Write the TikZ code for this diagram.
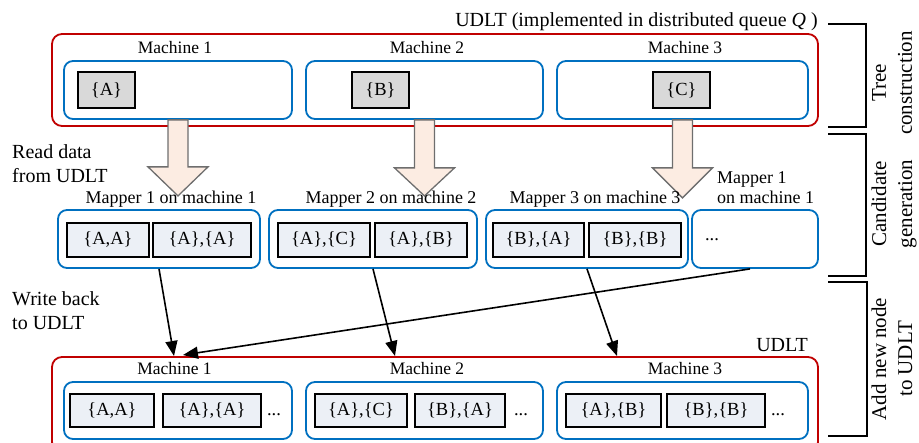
\documentclass[tikz,border=0pt]{standalone}
\usepackage{fontspec}
\setmainfont{Liberation Serif}
\usetikzlibrary{arrows.meta,calc}
\definecolor{udred}{RGB}{192,0,0}
\definecolor{udblue}{RGB}{0,112,192}
\definecolor{itemfill}{RGB}{236,240,246}
\definecolor{grayfill}{RGB}{217,217,217}
\definecolor{peach}{RGB}{252,236,226}
\definecolor{arrgray}{RGB}{110,110,110}
\begin{document}
\begin{tikzpicture}[x=1pt,y=-1pt,
  redbox/.style={draw=udred, line width=1.8pt, rounded corners=10pt, inner sep=0pt},
  bluebox/.style={draw=udblue, line width=1.8pt, rounded corners=9pt, inner sep=0pt, minimum height=58pt},
  itembox/.style={draw=black, line width=2.2pt, fill=itemfill, inner sep=0pt, minimum height=34pt, font=\fontsize{18.5}{20}\selectfont},
  graybox/.style={draw=black, line width=2.2pt, fill=grayfill, inner sep=0pt, minimum width=57pt, minimum height=36pt, font=\fontsize{18.5}{20}\selectfont},
  mlabel/.style={anchor=base, inner sep=0pt, font=\fontsize{17.5}{20}\selectfont},
  maplabel/.style={anchor=base, inner sep=0pt, font=\fontsize{18}{20}\selectfont},
  dotslabel/.style={anchor=base, inner sep=0pt, font=\fontsize{18.5}{20}\selectfont},
  sidetext/.style={rotate=90, align=center, inner sep=0pt, font=\fontsize{21}{26}\selectfont},
  lefttext/.style={anchor=north west, align=left, inner sep=0pt, font=\fontsize{20}{24.5}\selectfont},
  blockarrow/.style={draw=arrgray, line width=1.3pt, fill=peach, line join=miter},
  writearrow/.style={draw=black, line width=1.6pt, -{Triangle[length=15pt,width=12pt]}},
  bracket/.style={draw=black, line width=2pt}
]
\useasboundingbox (0,0) rectangle (919,443);

% ---------- top UDLT ----------
\node[redbox, minimum width=766pt, minimum height=92pt] (udlt) at (435,80) {};
\node[anchor=base east, inner sep=0pt, font=\fontsize{20}{24}\selectfont] (ttl) at (818,27)
  {UDLT (implemented in distributed queue \textit{Q} )};

\node[bluebox, minimum width=228pt] (tm1) at (178,90) {};
\node[bluebox, minimum width=237pt] (tm2) at (424.5,90) {};
\node[bluebox, minimum width=251pt] (tm3) at (682.5,90) {};
\node[mlabel] (tl1) at (175,54) {Machine 1};
\node[mlabel] (tl2) at (427,54) {Machine 2};
\node[mlabel] (tl3) at (685,54) {Machine 3};
\node[graybox] (ga) at (106.5,90) {\{A\}};
\node[graybox] (gb) at (380.5,90) {\{B\}};
\node[graybox] (gc) at (681.5,90) {\{C\}};

% ---------- block arrows ----------
\draw[blockarrow, shift={(tm1.south)}] (-10,0) -- (-10,47) -- (-30,47) -- (0,76) -- (30,47) -- (10,47) -- (10,0) -- cycle;
\draw[blockarrow, shift={(tm2.south)}] (-10,0) -- (-10,48) -- (-30,48) -- (0,76) -- (30,48) -- (10,48) -- (10,0) -- cycle;
\draw[blockarrow, shift={(tm3.south)}] (-10,0) -- (-10,48) -- (-30,48) -- (0,78) -- (30,48) -- (10,48) -- (10,0) -- cycle;

% ---------- mappers ----------
\node[bluebox, minimum width=202pt] (mp1) at (159,239) {};
\node[bluebox, minimum width=208pt] (mp2) at (373,239) {};
\node[bluebox, minimum width=202pt] (mp3) at (587,239) {};
\node[bluebox, minimum width=126pt] (mp4) at (755,239) {};
\node[maplabel] (ml1) at (171,204) {Mapper 1 on machine 1};
\node[maplabel] (ml2) at (391,204) {Mapper 2 on machine 2};
\node[maplabel] (ml3) at (595,204) {Mapper 3 on machine 3};
\node[anchor=north west, align=left, inner sep=0pt, font=\fontsize{18}{20}\selectfont] (ml4) at (717,171.5) {Mapper 1\\on machine 1};

\node[itembox, minimum width=82pt] (i11) at (108,240) {\{A,A\}};
\node[itembox, minimum width=98pt] (i12) at (202,240) {\{A\},\{A\}};
\node[itembox, minimum width=92pt] (i21) at (324,240) {\{A\},\{C\}};
\node[itembox, minimum width=92pt] (i22) at (421,240) {\{A\},\{B\}};
\node[itembox, minimum width=91pt] (i31) at (538.5,240) {\{B\},\{A\}};
\node[itembox, minimum width=92pt] (i32) at (635,240) {\{B\},\{B\}};
\node[dotslabel] (d4) at (712,241) {...};

% ---------- left texts ----------
\node[lefttext] (rd) at (12,144) {Read data\\from UDLT};
\node[lefttext] (wb) at (12,291) {Write back\\to UDLT};

% ---------- bottom UDLT ----------
\node[redbox, minimum width=766pt, minimum height=95pt] (udlt2) at (435,404.5) {};
\node[anchor=base, inner sep=0pt, font=\fontsize{20}{24}\selectfont] (ul2) at (782,352) {UDLT};
\node[bluebox, minimum width=228pt, minimum height=57pt] (bm1) at (178,410.5) {};
\node[bluebox, minimum width=237pt, minimum height=57pt] (bm2) at (424.5,410.5) {};
\node[bluebox, minimum width=251pt, minimum height=57pt] (bm3) at (682.5,410.5) {};
\node[mlabel] (bl1) at (174.5,375) {Machine 1};
\node[mlabel] (bl2) at (427,375) {Machine 2};
\node[mlabel] (bl3) at (685,375) {Machine 3};

\node[itembox, minimum width=84pt, minimum height=33pt] (b11) at (112,410.5) {\{A,A\}};
\node[itembox, minimum width=98pt, minimum height=33pt] (b12) at (212,410.5) {\{A\},\{A\}};
\node[dotslabel] (bd1) at (274,416) {...};
\node[itembox, minimum width=92pt, minimum height=33pt] (b21) at (361,410.5) {\{A\},\{C\}};
\node[itembox, minimum width=90pt, minimum height=33pt] (b22) at (460,410.5) {\{B\},\{A\}};
\node[dotslabel] (bd2) at (521,416) {...};
\node[itembox, minimum width=95pt, minimum height=33pt] (b31) at (613.5,410.5) {\{A\},\{B\}};
\node[itembox, minimum width=98pt, minimum height=33pt] (b32) at (716,410.5) {\{B\},\{B\}};
\node[dotslabel] (bd3) at (778,416) {...};

% ---------- write-back arrows ----------
\coordinate (t1) at (174,356);
\coordinate (t2) at (395,356);
\coordinate (t3) at (617,356);
\coordinate (t4) at (183,355);
\draw[writearrow] (mp1.south) -- (t1);
\draw[writearrow] (mp2.south) -- (t2);
\draw[writearrow] (mp3.south) -- (t3);
\draw[writearrow] ([xshift=-5pt]mp4.south) -- (t4);

% ---------- brackets ----------
\draw[bracket] (828,24) -- (866,24) -- (866,127) -- (828,127);
\draw[bracket] (828,134) -- (866,134) -- (866,276) -- (828,276);
\draw[bracket] (828,282) -- (867,282) -- (867,436) -- (828,436);
\node[sidetext] (s1) at (892,83) {Tree\\construction};
\node[sidetext] (s2) at (894,204) {Candidate\\generation};
\node[sidetext] (s3) at (892,359) {Add new node\\to UDLT};
\end{tikzpicture}
\end{document}
